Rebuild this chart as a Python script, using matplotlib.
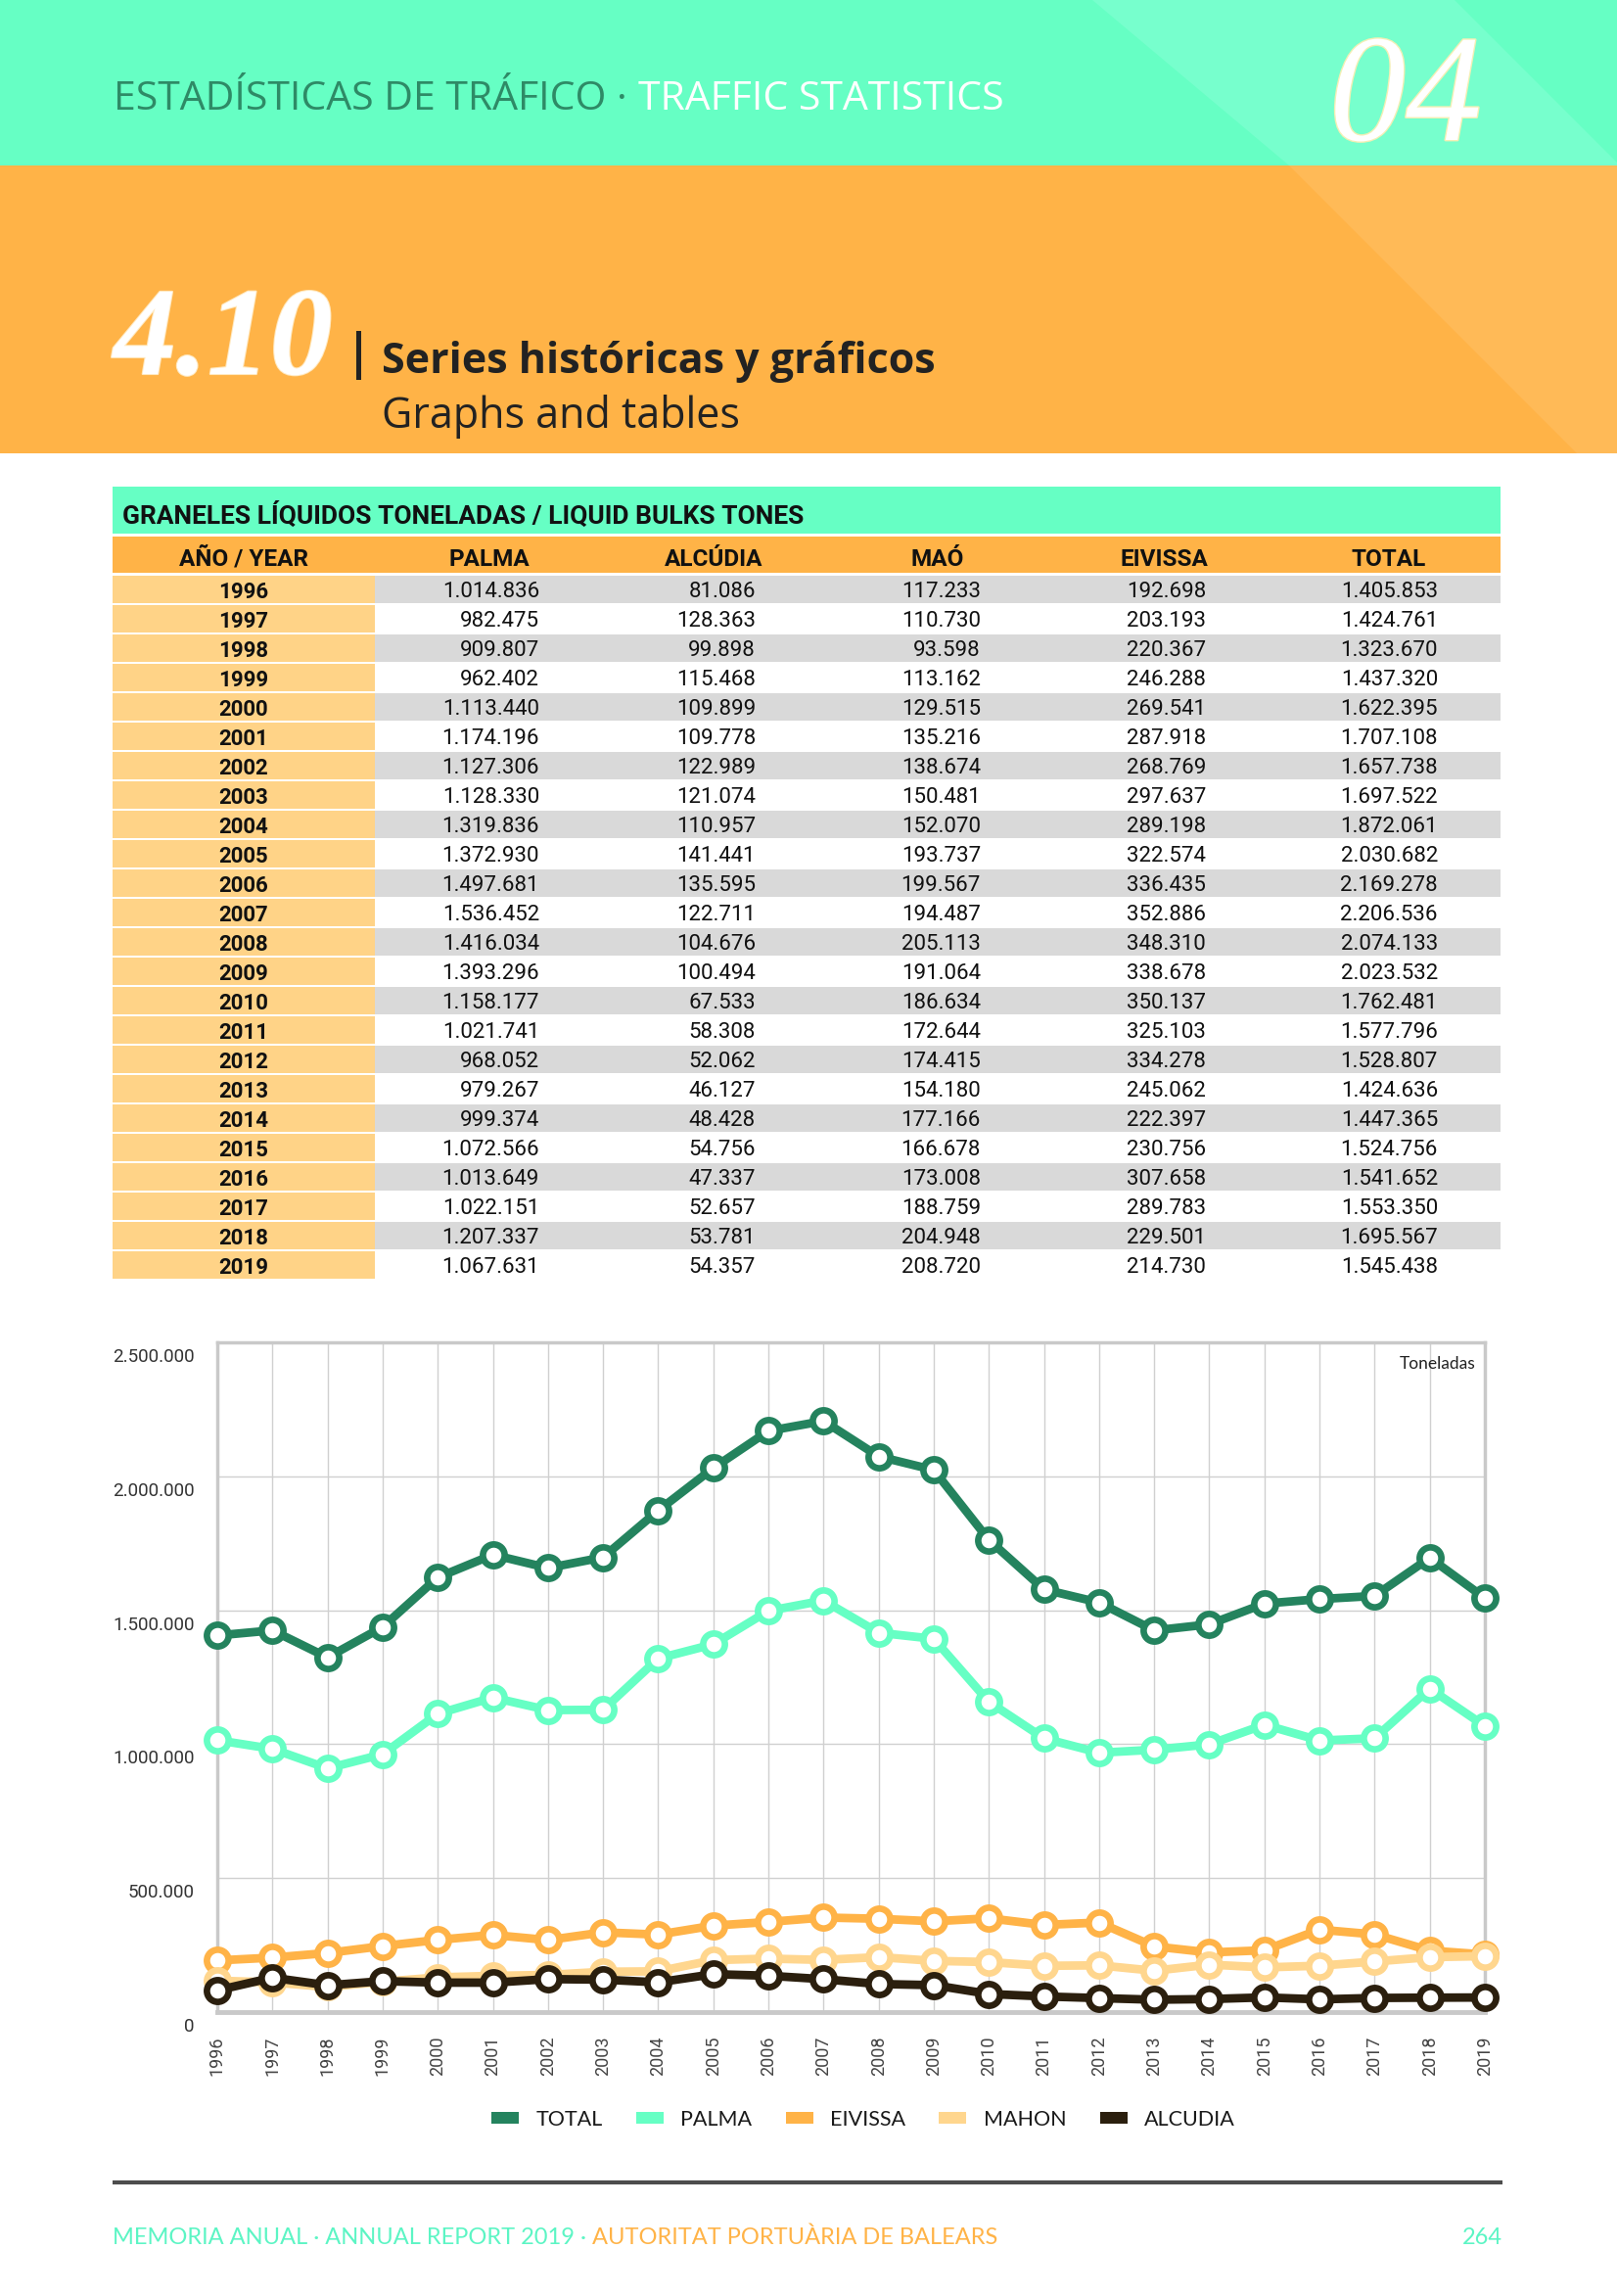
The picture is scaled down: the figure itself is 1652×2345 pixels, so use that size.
import matplotlib
matplotlib.use('Agg')
import matplotlib.pyplot as plt
from matplotlib.patches import Rectangle, Polygon, Patch
from matplotlib.transforms import ScaledTranslation
import matplotlib.patheffects as pe

# ---------------- data ----------------
years = list(range(1996, 2020))
palma = [1014836, 982475, 909807, 962402, 1113440, 1174196, 1127306, 1128330,
         1319836, 1372930, 1497681, 1536452, 1416034, 1393296, 1158177, 1021741,
         968052, 979267, 999374, 1072566, 1013649, 1022151, 1207337, 1067631]
alcudia = [81086, 128363, 99898, 115468, 109899, 109778, 122989, 121074,
           110957, 141441, 135595, 122711, 104676, 100494, 67533, 58308,
           52062, 46127, 48428, 54756, 47337, 52657, 53781, 54357]
mao = [117233, 110730, 93598, 113162, 129515, 135216, 138674, 150481,
       152070, 193737, 199567, 194487, 205113, 191064, 186634, 172644,
       174415, 154180, 177166, 166678, 173008, 188759, 204948, 208720]
eivissa = [192698, 203193, 220367, 246288, 269541, 287918, 268769, 297637,
           289198, 322574, 336435, 352886, 348310, 338678, 350137, 325103,
           334278, 245062, 222397, 230756, 307658, 289783, 229501, 214730]
total = [1405853, 1424761, 1323670, 1437320, 1622395, 1707108, 1657738, 1697522,
         1872061, 2030682, 2169278, 2206536, 2074133, 2023532, 1762481, 1577796,
         1528807, 1424636, 1447365, 1524756, 1541652, 1553350, 1695567, 1545438]

table_headers = ["AÑO / YEAR", "PALMA", "ALCÚDIA", "MAÓ", "EIVISSA", "TOTAL"]
series_names = ["TOTAL", "PALMA", "EIVISSA", "MAHON", "ALCUDIA"]
yticks = [0, 500000, 1000000, 1500000, 2000000, 2500000]


def fmt(v):
    return f"{v:,}".replace(",", ".")


# ---------------- colours ----------------
TEAL = '#66FFC4'
TEAL_L = '#77FFCD'
ORANGE = '#FFB347'
ORANGE_L = '#FFBA57'
YEARCELL = '#FFD387'
GRAY_ROW = '#D9D9D9'
C_TOTAL = '#24835E'
C_PALMA = '#66FFC4'
C_EIV = '#FFB347'
C_MAH = '#FFD68E'
C_ALC = '#2B1F0E'

W, H = 1652, 2345
fig = plt.figure(figsize=(W / 100, H / 100), dpi=100)
bg = fig.add_axes([0, 0, 1, 1])
bg.set_xlim(0, W)
bg.set_ylim(H, 0)
bg.axis('off')

# ---------------- header bands ----------------
bg.add_patch(Rectangle((0, 0), W, 169, color=TEAL, lw=0))
bg.add_patch(Polygon([(1116, 0), (1486, 0), (1655, 169), (1317, 169)],
                     color=TEAL_L, lw=0))
bg.add_patch(Rectangle((0, 169), W, 294, color=ORANGE, lw=0))
bg.add_patch(Polygon([(1317, 169), (W, 169), (W, 463), (1611, 463)],
                     color=ORANGE_L, lw=0))

t1 = bg.text(116, 102, "ESTADÍSTICAS DE TRÁFICO ·", fontsize=29.5, family='Open Sans',
             color='#2E8A66', ha='left', va='center')
bg.annotate("TRAFFIC STATISTICS", xy=(1, 0.5), xycoords=t1, xytext=(8, 0),
            textcoords='offset points', fontsize=29.5, family='Open Sans',
            color='white', ha='left', va='center')

bg.text(1436, 143, "04", fontsize=112, family='Liberation Serif', style='italic',
        color='white', ha='center', va='baseline',
        path_effects=[pe.withStroke(linewidth=2, foreground='#F3EFB5')])
bg.text(116, 382, "4.10", fontsize=92, family='Liberation Serif', style='italic',
        weight='bold', color='white', ha='left', va='baseline',
        path_effects=[pe.withStroke(linewidth=1.5, foreground='#FFE9C0')])
bg.add_patch(Rectangle((364, 338), 5, 50, color='#222222', lw=0))
bg.text(390, 381, "Series históricas y gráficos", fontsize=31, family='Open Sans',
        weight='bold', color='#222222', ha='left', va='baseline')
bg.text(390, 437, "Graphs and tables", fontsize=31, family='Open Sans',
        color='#222222', ha='left', va='baseline')

# ---------------- table ----------------
x0, x1, xy = 115, 1533, 383
bg.add_patch(Rectangle((x0, 497), x1 - x0, 48, color=TEAL, lw=0))
bg.text(125, 526, "GRANELES LÍQUIDOS TONELADAS / LIQUID BULKS TONES", fontsize=19,
        family='Roboto', weight='bold', color='#111111', ha='left', va='center')
bg.add_patch(Rectangle((x0, 548), x1 - x0, 37, color=ORANGE, lw=0))
header_x = [249, 500, 729, 958, 1189, 1419]
for lab, cx in zip(table_headers, header_x):
    bg.text(cx, 571, lab, fontsize=17.5, family='Roboto', weight='bold',
            color='#111111', ha='center', va='center')

right_x = [551, 772, 1002, 1232, 1469]
cols = [palma, alcudia, mao, eivissa, total]
for i, yr in enumerate(years):
    top = 588 + i * 30
    bg.add_patch(Rectangle((x0, top), xy - x0, 28, color=YEARCELL, lw=0))
    if i % 2 == 0:
        bg.add_patch(Rectangle((xy, top), x1 - xy, 28, color=GRAY_ROW, lw=0))
    bg.text(249, top + 17, str(yr), fontsize=16, family='Roboto', weight='bold',
            color='#111111', ha='center', va='center')
    for vals, rx in zip(cols, right_x):
        bg.text(rx, top + 17, fmt(vals[i]), fontsize=16, family='Roboto',
                color='#111111', ha='right', va='center')

# ---------------- chart ----------------
ax = fig.add_axes([222 / W, 1 - 2055 / H, (1517 - 222) / W, (2055 - 1371) / H])
ax.set_xlim(1996, 2019)
ax.set_ylim(0, 2500000)
ax.set_xticks(years)
ax.set_xticklabels([str(y) for y in years], rotation=90, fontsize=13,
                   family='Roboto', color='#444444')
ax.set_yticks(yticks)
ax.set_yticklabels([])
ax.tick_params(length=0)
ax.tick_params(axis='x', pad=18)
ax.grid(True, color='#D0D0D0', lw=1)
ax.set_axisbelow(True)
for side in ['left', 'top', 'right']:
    ax.spines[side].set_color('#C9C9C9')
    ax.spines[side].set_linewidth(2.5)
ax.spines['bottom'].set_color('#C9C9C9')
ax.spines['bottom'].set_linewidth(3.5)

off = ScaledTranslation(0, -0.15, fig.dpi_scale_trans)
for v in yticks:
    ax.text(-23 / 1295, v, fmt(v), transform=ax.get_yaxis_transform() + off,
            ha='right', va='center', fontsize=13.5, family='Roboto',
            color='#333333')

series = [(series_names[0], total, C_TOTAL), (series_names[1], palma, C_PALMA),
          (series_names[2], eivissa, C_EIV), (series_names[3], mao, C_MAH),
          (series_names[4], alcudia, C_ALC)]
for k, (name, vals, c) in enumerate(series):
    ax.plot(years, vals, color=c, lw=6.3, marker='o', ms=16, mfc='white', mec=c,
            mew=4.8, clip_on=False, zorder=3 + k, solid_joinstyle='round')

ax.text(1 - 10 / 1295, 1 - 22 / 684, "Toneladas", transform=ax.transAxes,
        ha='right', va='center', fontsize=12.5, family='Lato',
        color='#222222')

handles = [Patch(facecolor=c, edgecolor='none', label=n) for n, _, c in series]
fig.legend(handles=handles, loc='center', bbox_to_anchor=(882 / W, 1 - 2165 / H),
           ncol=5, frameon=False, prop={'family': 'Lato', 'size': 15.5},
           handlelength=1.3, handleheight=0.48, handletextpad=0.8,
           columnspacing=1.6, labelcolor='#1A1A1A')

# ---------------- footer ----------------
bg.plot([115, 1535], [2229, 2229], color='#4D4D4D', lw=3, solid_capstyle='butt')
f1 = bg.text(115, 2285, "MEMORIA ANUAL · ANNUAL REPORT 2019 ·", fontsize=17,
             family='Lato', color='#5CF5C4', ha='left', va='center')
bg.annotate("AUTORITAT PORTUÀRIA DE BALEARS", xy=(1, 0.5), xycoords=f1,
            xytext=(4, 0), textcoords='offset points', fontsize=17,
            family='Lato', color=ORANGE, ha='left', va='center')
bg.text(1535, 2285, "264", fontsize=17, family='Lato',
        color='#5CF5C4', ha='right', va='center')

fig.savefig('out.png', dpi=100)
